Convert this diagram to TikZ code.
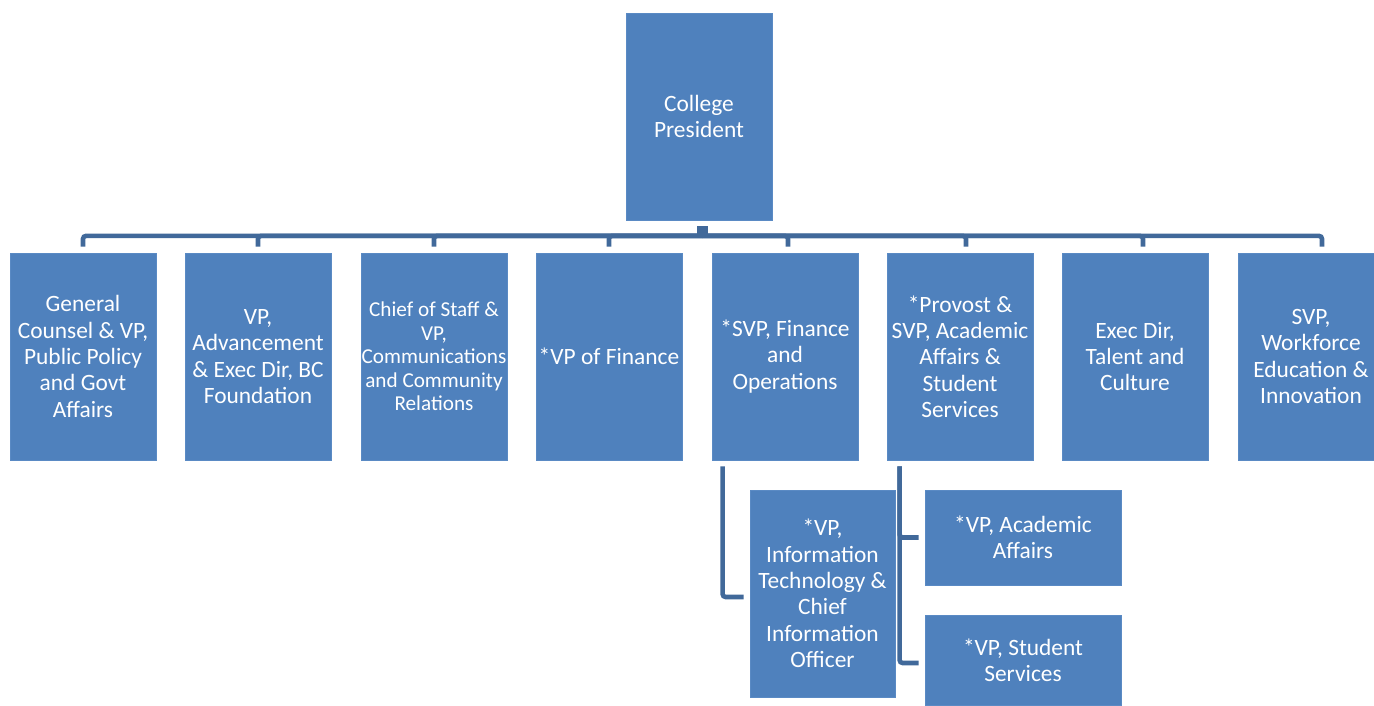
\documentclass[tikz,border=0pt]{standalone}
\usepackage{fontspec}
\setmainfont{Carlito}
\definecolor{boxblue}{HTML}{4F81BD}
\definecolor{boxedge}{HTML}{5A8AC4}
\definecolor{connblue}{HTML}{41699A}
\begin{document}
\begin{tikzpicture}[x=1pt,y=-1pt,
  orgbox/.style={rectangle, fill=boxblue, draw=boxedge, line width=0.8pt, text=white, align=center, inner sep=0pt,
    minimum width=146pt, minimum height=207pt, font=\fontsize{23.4}{26.3}\selectfont},
  smalltext/.style={font=\fontsize{21.2}{23.5}\selectfont},
  conn/.style={draw=connblue, line width=4.6pt, rounded corners=3pt}]
\useasboundingbox (0,0) rectangle (1374,706);
\node[orgbox] (pres) at (699,116.5) {College\\President};
\node[orgbox] (c1) at (83,356.5) {General\\Counsel \& VP,\\Public Policy\\and Govt\\Affairs};
\node[orgbox] (c2) at (258,356.5) {VP,\\Advancement\\\& Exec Dir, BC\\Foundation};
\node[orgbox,smalltext] (c3) at (434,356.5) {Chief of Staff \&\\VP,\\Communications\\and Community\\Relations};
\node[orgbox] (c4) at (609,356.5) {*VP of Finance};
\node[orgbox] (c5) at (785,356.5) {*SVP, Finance\\and\\Operations};
\node[orgbox] (c6) at (960,356.5) {*Provost \&\\SVP, Academic\\Affairs \&\\Student\\Services};
\node[orgbox] (c7) at (1135,356.5) {Exec Dir,\\Talent and\\Culture};
\node[orgbox] (c8) at (1311,356.5) {SVP,\\Workforce\\Education \&\\Innovation};
\node[orgbox, minimum width=145pt] (it) at (822.5,593.5) {*VP,\\Information\\Technology \&\\Chief\\Information\\Officer};
\node[orgbox, minimum width=196pt, minimum height=95pt] (aa) at (1023,537.5) {*VP, Academic\\Affairs};
\node[orgbox, minimum width=196pt, minimum height=90pt] (ss) at (1023,660) {*VP, Student\\Services};
% bus from president
\coordinate (bus) at ([xshift=3pt,yshift=-15.5pt]pres.south);
\draw[draw=connblue, line width=11pt] ([xshift=3pt,yshift=-6pt]pres.south) -- ([xshift=3pt,yshift=-15pt]pres.south);
\foreach \c/\dx in {c1/0,c2/0,c3/0,c4/0,c5/3,c6/6,c7/8,c8/11}{
  \draw[conn] (bus) -| ([xshift=\dx pt,yshift=6pt]\c.north);
}
% sub connectors
\draw[conn] ([xshift=11pt,yshift=-6pt]c5.south west) |- ([xshift=-6pt]it.west |- 0,597);
\draw[conn] ([xshift=13pt,yshift=-6pt]c6.south west) |- ([xshift=-6pt]aa.west);
\draw[conn] ([xshift=13pt,yshift=-6pt]c6.south west) |- ([xshift=-6pt,yshift=-3pt]ss.west);
\end{tikzpicture}
\end{document}
